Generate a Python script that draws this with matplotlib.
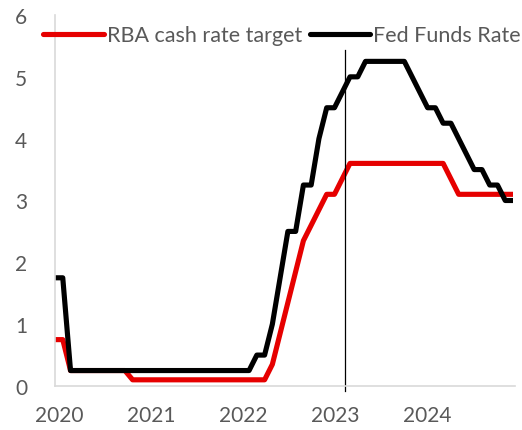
import numpy as np
import matplotlib
matplotlib.use("Agg")
import matplotlib.pyplot as plt

# monthly data, Jan 2020 .. Dec 2024
rba = [0.75, 0.75, 0.25, 0.25, 0.25, 0.25, 0.25, 0.25, 0.25, 0.25,
       0.10, 0.10, 0.10, 0.10, 0.10, 0.10, 0.10, 0.10, 0.10, 0.10,
       0.10, 0.10, 0.10, 0.10, 0.10, 0.10, 0.10, 0.10, 0.35, 0.85,
       1.35, 1.85, 2.35, 2.60, 2.85, 3.10, 3.10, 3.35, 3.60, 3.60,
       3.60, 3.60, 3.60, 3.60, 3.60, 3.60, 3.60, 3.60, 3.60, 3.60,
       3.60, 3.35, 3.10, 3.10, 3.10, 3.10, 3.10, 3.10, 3.10, 3.10]
fed = [1.75, 1.75, 0.25, 0.25, 0.25, 0.25, 0.25, 0.25, 0.25, 0.25,
       0.25, 0.25, 0.25, 0.25, 0.25, 0.25, 0.25, 0.25, 0.25, 0.25,
       0.25, 0.25, 0.25, 0.25, 0.25, 0.25, 0.50, 0.50, 1.00, 1.75,
       2.50, 2.50, 3.25, 3.25, 4.00, 4.50, 4.50, 4.75, 5.00, 5.00,
       5.25, 5.25, 5.25, 5.25, 5.25, 5.25, 5.00, 4.75, 4.50, 4.50,
       4.25, 4.25, 4.00, 3.75, 3.50, 3.50, 3.25, 3.25, 3.00, 3.00]
years = ["2020", "2021", "2022", "2023", "2024"]
marker_month = 37.4

plt.rcParams['font.family'] = ['Lato', 'DejaVu Sans']
grey = "#595959"

fig = plt.figure(figsize=(5.22, 4.31), dpi=100)
ax = fig.add_axes([55/522, 44/431, 458/522, 371/431])

x = np.arange(len(rba))
style = dict(lw=3.7, solid_capstyle="round", solid_joinstyle="round")
ax.plot(x, rba, color="#e60000", label="RBA cash rate target", **style)
ax.plot(x, fed, color="black", label="Fed Funds Rate", **style)
ax.plot([marker_month, marker_month], [-0.08, 5.44], color="black", lw=0.9, clip_on=False)

ax.set_xlim(0, 59)
ax.set_ylim(0, 6)
ax.set_yticks(range(7))
ax.set_xticks([0.5 + 11.87*k for k in range(len(years))])
ax.set_xticklabels(years)
ax.tick_params(length=0, labelsize=15, colors=grey)
ax.tick_params(axis="y", pad=20)
ax.tick_params(axis="x", pad=14)

for s in ["top", "right"]:
    ax.spines[s].set_visible(False)
for s in ["left", "bottom"]:
    ax.spines[s].set_color("#d9d9d9")
    ax.spines[s].set_linewidth(1.2)
ax.spines["bottom"].set_bounds(0, 59.3)

leg = ax.legend(loc="upper left", bbox_to_anchor=(-18/458, 0.99), ncol=2, frameon=False,
                fontsize=15.5, handlelength=2.8, handletextpad=0.15, columnspacing=0.35,
                borderaxespad=0.3, borderpad=0.0)
for t in leg.get_texts():
    t.set_color(grey)

fig.savefig("out.png", dpi=100)
